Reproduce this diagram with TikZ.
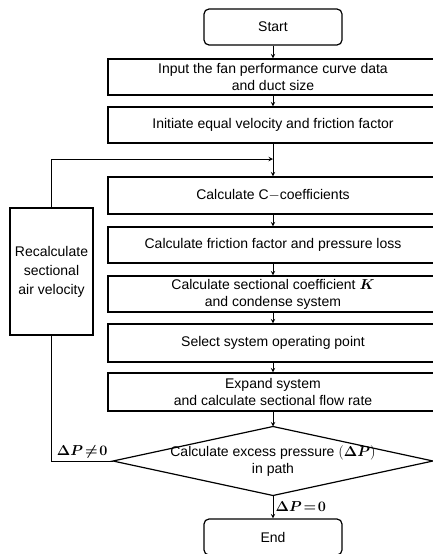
\documentclass[tikz,border=0pt]{standalone}
\usepackage{amsmath,amssymb}
\usepackage{fontspec}
\setmainfont{Liberation Sans}
\usetikzlibrary{positioning,arrows,shapes.geometric,calc}

\begin{document}
\begin{tikzpicture}[x=1pt,y=-1pt,
  proc/.style={rectangle,draw,line width=1.2pt,minimum width=330pt,minimum height=36pt,inner sep=1pt,align=center,font=\fontsize{14}{17}\selectfont},
  term/.style={proc,rounded corners=5pt,minimum width=138pt},
  arr/.style={->,>=stealth,line width=1pt},
  cond/.style={font=\fontsize{14}{17}\selectfont\boldmath,inner sep=2pt},
]
\clip (0,0) rectangle (433,554);

% === Main chain ===
\node[term] (start) at (273,27) {Start};
\node[proc] (input) at (273,77) {Input the fan performance curve data\\and duct size};
\node[proc] (init) at (273,125) {Initiate equal velocity and friction factor};
\node[proc,minimum height=37pt] (calcC) at (273,195.5) {Calculate C$\mathord{-}$coefficients};
\node[proc] (fric) at (273,245) {Calculate friction factor and pressure loss};
\node[proc] (kcoef) at (273,294) {Calculate sectional coefficient $\boldsymbol{K}$\\and condense system};
\node[proc,minimum height=38pt] (select) at (273,343) {Select system operating point};
\node[proc,minimum height=38pt] (expand) at (273,392) {Expand system\\and calculate sectional flow rate};
\node[term] (stop) at (273,537) {End};

% === Decision (diamond drawn as path) ===
\node[align=center,font=\fontsize{14}{17}\selectfont] (check) at (273,461) {Calculate excess pressure $(\boldsymbol{\Delta P})$\\in path};
\coordinate (ctop) at (273,426.5);
\coordinate (cbot) at (273,495.5);
\coordinate (cleft) at (113,461);
\coordinate (cright) at (433,461);
\draw[line width=1.2pt] (ctop) -- (cright) -- (cbot) -- (cleft) -- cycle;

% === Loop box ===
\node[proc,minimum width=83pt,minimum height=127pt,font=\fontsize{14}{19}\selectfont] (recalc) at (51.5,271.5) {Recalculate\\sectional\\air velocity};
\coordinate (merge) at (273,159);

% === Arrows ===
\draw[arr] (start) -- (input);
\draw[arr] (input) -- (init);
\draw[arr] (init) -- (calcC);
\draw[arr] (calcC) -- (fric);
\draw[arr] (fric) -- (kcoef);
\draw[arr] (kcoef) -- (select);
\draw[arr] (select) -- (expand);
\draw[arr] (expand) -- (ctop);
\draw[arr] (cbot) -- node[cond,right] {$\Delta P\!=\!0$} (stop);

% === Feedback ===
\draw[line width=1pt] (cleft) -- node[cond,above] {$\Delta P\!\neq\!0$} (cleft -| recalc.south) -- (recalc.south);
\draw[arr] (recalc.north) |- (merge);

\end{tikzpicture}
\end{document}
